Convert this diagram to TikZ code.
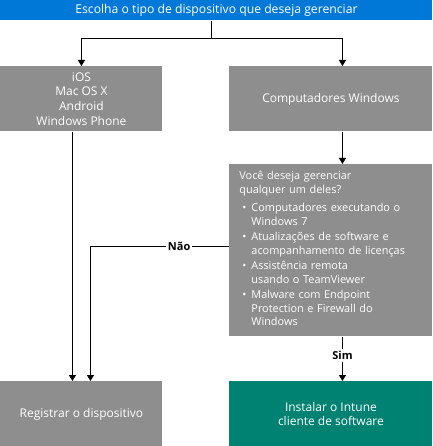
\documentclass[tikz,border=0pt]{standalone}
\usepackage{fontspec}
\setmainfont{Open Sans}
\usetikzlibrary{arrows.meta,positioning}

\definecolor{msblue}{HTML}{0078D7}
\definecolor{boxgray}{HTML}{8E8E8E}
\definecolor{msteal}{HTML}{008272}

% bullet line, following lines indented under the text
\newcommand{\qitem}[1]{\par\vspace{1pt}\noindent
  \makebox[12pt][l]{\hspace{3pt}\textbullet}\parbox[t]{171pt}{\raggedright\strut #1\strut}}

\begin{document}
\begin{tikzpicture}[x=1pt, y=-1pt,
                    >={Triangle[width=7pt,length=6pt]},
                    line width=0.9pt,
                    every node/.style={font=\fontsize{12}{14.6}\selectfont},
                    box/.style={fill=boxgray, text=white, inner sep=0pt,
                                align=center, anchor=north west},
                    answer/.style={fill=white, inner sep=2pt,
                                   font=\fontsize{11}{12}\selectfont\bfseries}]
    \useasboundingbox (0,0) rectangle (432,446);

   \node[box, fill=msblue, minimum width=432, minimum height=20,
         font=\fontsize{12.2}{14}\selectfont]
        (choose)   at (0,0)     {Escolha o tipo de dispositivo que deseja gerenciar};
   \node[box, minimum width=162, minimum height=65]
        (mobile)   at (0,66)    {iOS\\Mac OS X\\Android\\Windows Phone};
   \node[box, minimum width=203, minimum height=65]
        (windows)  at (229,66)  {Computadores Windows};
   \node[box, minimum width=203, minimum height=172, align=left,
         text width=183, inner xsep=10pt, inner ysep=0pt,
         font=\fontsize{10.9}{13.5}\selectfont]
        (question) at (229,164) {Você deseja gerenciar\newline qualquer um deles?\par\vspace{4pt}
          \qitem{Computadores executando o\\Windows 7}
          \qitem{Atualizações de software e\\acompanhamento de licenças}
          \qitem{Assistência remota\\usando o TeamViewer}
          \qitem{Malware com Endpoint\\Protection e Firewall do\\Windows}};
   \node[box, minimum width=162, minimum height=65]
        (enroll)   at (0,381)   {Registrar o dispositivo};
   \node[box, fill=msteal, minimum width=203, minimum height=65]
        (install)  at (229,381) {Instalar o Intune\\cliente de software};

   \coordinate (fork) at (211,38);

   % Define transitions
   \draw (choose.south -| fork) -- (fork);
   \draw[->] (fork) -| (mobile.north);
   \draw[->] (fork) -| ([xshift=11.5pt]windows.north);
   \draw[->] ([xshift=11.5pt]windows.south) -- ([xshift=11.5pt]question.north);
   \draw[->] ([xshift=-9pt]mobile.south) -- ([xshift=-9pt]enroll.north);
   \draw[->] ([yshift=4pt]question.west) -| node[answer, pos=0.18] {Não}
         ([xshift=9pt]enroll.north);
   \draw[->] ([xshift=11.5pt]question.south) -- node[answer, pos=0.42] {Sim}
         ([xshift=11.5pt]install.north);
\end{tikzpicture}
\end{document}
